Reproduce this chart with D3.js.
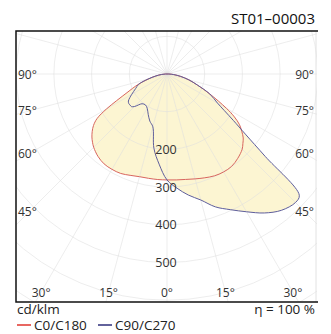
<!DOCTYPE html>
<html><head><meta charset="utf-8">
<script src="https://cdn.jsdelivr.net/npm/d3@7"></script>
<style>
html,body{margin:0;padding:0;background:#fff;}
svg{display:block;font-family:"Open Sans",sans-serif;}
</style></head>
<body><svg id="c" width="331" height="334"></svg>
<script>
// ---- data ----
const gammas = [0,5,10,15,20,25,30,35,40,45,47.5,50,52.5,55,57.5,60,65,70,75,80,85,90];
const c0   = [281,282,284,288,293,298,300,299,292,282,273,264,250,235,212,182,125,86,60,37,18,5];
const c180 = [281,281,281,282,286,291,292,291,285,275,268,260,250,238,220,185,117,82,52,30,15,4];
const c90  = [281,304,326,346,375,397,422,450,472,482,476,340,262,215,180,155,125,86,60,37,18,5];
const c270 = [281,240,200,145,133,118,105,100,103,122,128,128,128,125,117,108,92,80,52,30,15,4];
const radialTicks = [100,200,300,400,500,600,700,800];
const radialLabels = [200,300,400,500];
const sideAngles = [90,75,60,45];
const bottomAngles = [-30,-15,0,15,30];
const title = "ST01–00003";
const unit = "cd/klm";
const eff = "η = 100 %";
const legend = [{name:"C0/C180", color:"#e0342c"},{name:"C90/C270", color:"#2e2e7a"}];

// ---- layout ----
const svg = d3.select("#c");
const frame = {x0:16, y0:31, x1:317, y1:302};
const cx = 167, cy = 74;
const r = d3.scaleLinear().domain([0,100]).range([0,37.7]);
const rad = d => d*Math.PI/180;

svg.append("defs").append("clipPath").attr("id","clip")
  .append("rect").attr("x",frame.x0).attr("y",frame.y0)
  .attr("width",frame.x1-frame.x0).attr("height",frame.y1-frame.y0);

const plot = svg.append("g").attr("clip-path","url(#clip)");

// curve: left half (second array) gamma 90->0, right half (first array) 0->90
function curvePts(right, left){
  const pts = [];
  for (let i = gammas.length-1; i >= 0; i--) pts.push([Math.PI + rad(gammas[i]), r(left[i])]);
  for (let i = 1; i < gammas.length; i++) pts.push([Math.PI - rad(gammas[i]), r(right[i])]);
  return pts;
}
const line = d3.lineRadial().angle(d=>d[0]).radius(d=>d[1]).curve(d3.curveCatmullRomClosed.alpha(0.5));

const g = plot.append("g").attr("transform",`translate(${cx},${cy})`);
const curves = [
  {pts: curvePts(c0,c180), color:"#d8655e"},
  {pts: curvePts(c90,c270), color:"#5e5e9c"}
];
curves.forEach(c => g.append("path").attr("d", line(c.pts)).attr("fill","#fcf5d2").attr("stroke","none"));

// grid
const grid = g.append("g").attr("stroke","#dedede").attr("stroke-opacity",0.55).attr("fill","none").attr("stroke-width",1);
radialTicks.forEach(t => grid.append("circle").attr("r", r(t)));
d3.range(0,360,15).forEach(a => {
  grid.append("line").attr("x1",0).attr("y1",0)
    .attr("x2", 420*Math.sin(rad(a))).attr("y2", 420*Math.cos(rad(a)));
});

curves.forEach(c => g.append("path").attr("d", line(c.pts)).attr("fill","none")
  .attr("stroke",c.color).attr("stroke-width",1));

// frame
svg.append("line").attr("x1",frame.x1-1).attr("x2",frame.x1-1).attr("y1",frame.y0).attr("y2",frame.y1).attr("stroke","#e2e2e2");
svg.append("path").attr("d",`M${frame.x1+1},${frame.y0}H${frame.x0}V${frame.y1}H${frame.x1+1}`)
  .attr("fill","none").attr("stroke","#111").attr("stroke-width",1.5);

// radial labels (centred on their circles)
svg.append("g").selectAll("text").data(radialLabels).join("text")
  .attr("x",cx-1).attr("y",d=>cy + r(d) + 4.5)
  .attr("text-anchor","middle").attr("font-size",12.5).attr("fill","#333")
  .text(d=>d);

// side angle labels: where each ray meets the label column
const labelInset = 137;
const sideY = a => cy + labelInset/Math.tan(rad(a)) + 4.5;
const side = svg.append("g").attr("font-size",12).attr("fill","#333");
sideAngles.forEach(a => {
  side.append("text").attr("x",18).attr("y",sideY(a)).text(a+"°");
  side.append("text").attr("x",314).attr("y",sideY(a)).attr("text-anchor","end").text(a+"°");
});
// bottom angle labels: where each ray meets the label row
const rowY = 292;
svg.append("g").attr("font-size",12).attr("fill","#333").selectAll("text").data(bottomAngles).join("text")
  .attr("x", a => cx + (rowY-cy)*Math.tan(rad(a)))
  .attr("y", rowY+4.5).attr("text-anchor","middle")
  .text(a => Math.abs(a)+"°");

// texts
svg.append("text").attr("x",315).attr("y",24).attr("text-anchor","end")
  .attr("font-size",15).attr("fill","#111").text(title);
svg.append("text").attr("x",17).attr("y",314).attr("font-size",13.5).attr("fill","#222").text(unit);
svg.append("text").attr("x",315).attr("y",314).attr("text-anchor","end").attr("font-size",13.5).attr("fill","#222").text(eff);
const lg = svg.append("g");
const legendX = [17, 98];
legend.forEach((l,i) => {
  const lx = legendX[i];
  lg.append("line").attr("x1",lx).attr("x2",lx+14).attr("y1",325).attr("y2",325).attr("stroke",l.color).attr("stroke-width",1.5);
  lg.append("text").attr("x",lx+17).attr("y",329.5).attr("font-size",13.5).attr("fill","#222").text(l.name);
});
</script></body></html>
